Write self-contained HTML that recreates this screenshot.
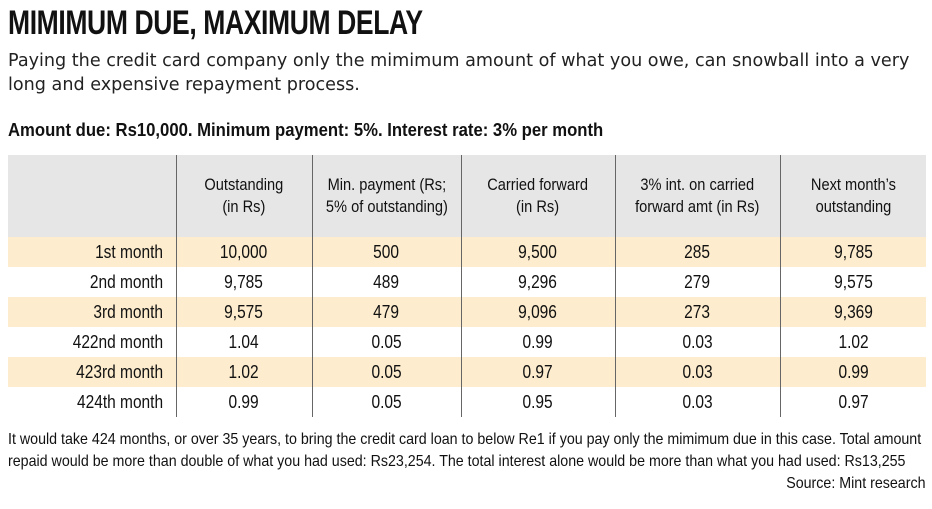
<!DOCTYPE html>
<html><head><style>
body{margin:0;width:932px;height:509px;background:#fff;font-family:"Liberation Sans",sans-serif;color:#111;position:relative;overflow:hidden}
.a{position:absolute;white-space:nowrap;transform-origin:0 0}
h1{position:absolute;left:8px;top:4px;margin:0;font-size:34px;font-weight:bold;letter-spacing:-0.5px;transform:scaleX(0.78);transform-origin:0 0;white-space:nowrap}
.sub{left:8px;font-family:"DejaVu Sans",sans-serif;font-size:18px;color:#222;transform:scaleX(0.977)}
table{position:absolute;left:8px;top:155px;border-collapse:collapse;width:918px;font-size:18px;table-layout:fixed}
td{text-align:center;padding:0;height:30px;border-left:1px solid #666;white-space:nowrap;overflow:visible}
td:first-child{border-left:none;text-align:right;padding-right:12px}
td span{display:inline-block;transform:scaleX(0.86)}
td:first-child span{transform-origin:100% 50%}
tr.h td{height:82px;background:#e6e6e7;line-height:22px;font-size:17px}
tr.y td{background:#fdeccd}
</style></head><body>
<h1>MIMIMUM DUE, MAXIMUM DELAY</h1>
<div class="a sub" style="top:50px">Paying the credit card company only the mimimum amount of what you owe, can snowball into a very</div>
<div class="a sub" style="top:74px">long and expensive repayment process.</div>
<div class="a" style="left:8px;top:120px;font-size:18px;font-weight:bold;transform:scaleX(0.927)">Amount due: Rs10,000. Minimum payment: 5%. Interest rate: 3% per month</div>
<table>
<colgroup><col style="width:168px"><col style="width:136px"><col style="width:149px"><col style="width:154px"><col style="width:165px"><col></colgroup>
<tr class="h"><td></td><td><span>Outstanding<br>(in Rs)</span></td><td><span>Min. payment (Rs;<br>5% of outstanding)</span></td><td><span>Carried forward<br>(in Rs)</span></td><td><span>3% int. on carried<br>forward amt (in Rs)</span></td><td><span>Next month’s<br>outstanding</span></td></tr>
<tr class="y"><td><span>1st month</span></td><td><span>10,000</span></td><td><span>500</span></td><td><span>9,500</span></td><td><span>285</span></td><td><span>9,785</span></td></tr>
<tr><td><span>2nd month</span></td><td><span>9,785</span></td><td><span>489</span></td><td><span>9,296</span></td><td><span>279</span></td><td><span>9,575</span></td></tr>
<tr class="y"><td><span>3rd month</span></td><td><span>9,575</span></td><td><span>479</span></td><td><span>9,096</span></td><td><span>273</span></td><td><span>9,369</span></td></tr>
<tr><td><span>422nd month</span></td><td><span>1.04</span></td><td><span>0.05</span></td><td><span>0.99</span></td><td><span>0.03</span></td><td><span>1.02</span></td></tr>
<tr class="y"><td><span>423rd month</span></td><td><span>1.02</span></td><td><span>0.05</span></td><td><span>0.97</span></td><td><span>0.03</span></td><td><span>0.99</span></td></tr>
<tr><td><span>424th month</span></td><td><span>0.99</span></td><td><span>0.05</span></td><td><span>0.95</span></td><td><span>0.03</span></td><td><span>0.97</span></td></tr>
</table>
<div class="a" style="left:8px;top:431px;font-size:16px;transform:scaleX(0.89)">It would take 424 months, or over 35 years, to bring the credit card loan to below Re1 if you pay only the mimimum due in this case. Total amount</div>
<div class="a" style="left:8px;top:453px;font-size:16px;transform:scaleX(0.89)">repaid would be more than double of what you had used: Rs23,254. The total interest alone would be more than what you had used: Rs13,255</div>
<div class="a" style="right:6px;top:475px;font-size:16px;transform:scaleX(0.89);transform-origin:100% 0">Source: Mint research</div>
</body></html>
